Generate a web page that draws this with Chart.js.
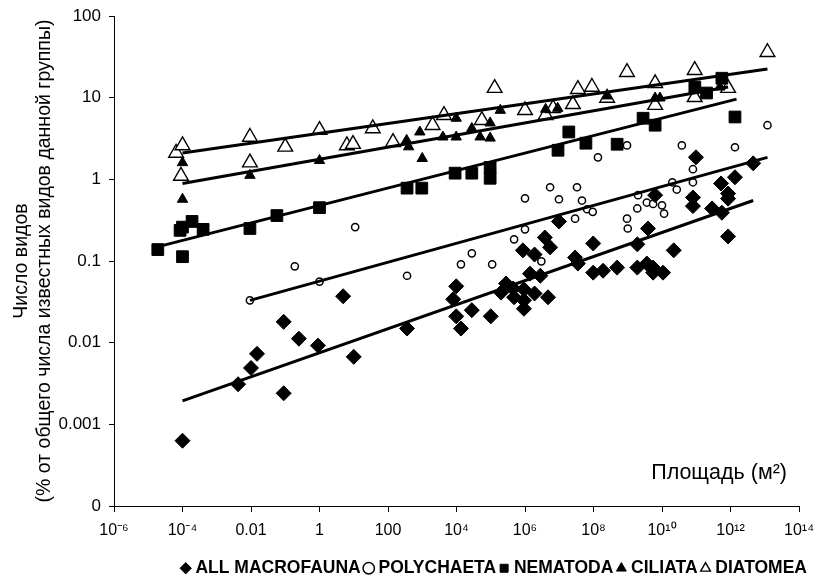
<!DOCTYPE html>
<html><head><meta charset="utf-8">
<script src="https://cdn.jsdelivr.net/npm/chart.js@4.4.1/dist/chart.umd.min.js"></script>
<style>html,body{margin:0;padding:0;background:#fff}#wrap{width:814px;height:582px;position:relative}</style>
</head><body><div id="wrap"><canvas id="c" width="814" height="582"></canvas></div>
<script>
// ---- data (area m², % of known species) ----
const seriesNames = ['ALL MACROFAUNA','POLYCHAETA','NEMATODA','CILIATA','DIATOMEA'];
const macroX = [1e-4,0.0042,0.01,0.015,0.09,0.09,0.25,0.9,4.9,10,360,8000,9800,9800,13500,28000,1e5,2e5,2.8e5,4.5e5,4.8e5,8.7e5,9.3e5,9.3e5,9.3e5,1.4e6,1.9e6,1.9e6,2.8e6,3.8e6,4.7e6,5.4e6,9.8e6,2.9e7,3.5e7,9.8e7,9.8e7,1.9e8,4.9e8,1.9e9,1.9e9,3.6e9,3.9e9,5.5e9,5.5e9,6.3e9,1.07e10,2.2e10,8e10,8e10,9.8e10,2.9e11,5.3e11,5.6e11,8.5e11,8.5e11,8.5e11,1.35e12,4.6e12];
const macroY = [0.00063,0.0031,0.0049,0.0073,0.018,0.0024,0.0112,0.0092,0.037,0.0067,0.0149,0.034,0.049,0.021,0.0149,0.025,0.021,0.041,0.053,0.046,0.036,0.135,0.045,0.033,0.026,0.070,0.12,0.040,0.066,0.194,0.036,0.147,0.305,0.110,0.093,0.164,0.072,0.076,0.083,0.16,0.083,0.093,0.25,0.083,0.072,0.64,0.072,0.135,0.60,0.47,1.86,0.44,0.89,0.39,0.67,0.58,0.20,1.06,1.57];
const polyX = [0.0093,0.19,1,11,360,13500,28000,1.1e5,4.8e5,1e6,1e6,3e6,5.4e6,9.8e6,2.9e7,3.3e7,4.6e7,6.5e7,9.5e7,1.35e8,9.5e8,9.5e8,1e9,1.9e9,2e9,3.6e9,5.5e9,1e10,1.15e10,2e10,2.7e10,3.8e10,8e10,8e10,1.35e12,1.2e13];
const polyY = [0.033,0.086,0.056,0.26,0.066,0.091,0.124,0.091,0.184,0.244,0.585,0.099,0.8,0.57,0.33,0.8,0.55,0.43,0.40,1.86,2.6,0.33,0.25,0.44,0.64,0.52,0.5,0.48,0.38,0.92,0.75,2.6,1.33,0.92,2.47,4.6];
const nemaX = [1.9e-5,8.5e-5,1e-4,1e-4,1.9e-4,4e-4,0.0093,0.057,1,360,970,9100,28000,96000,96000,9.2e6,1.9e7,6e7,4.9e8,2.8e9,6.3e9,9.1e10,2e11,5.6e11,1.35e12];
const nemaY = [0.138,0.237,0.26,0.113,0.305,0.244,0.25,0.36,0.45,0.78,0.78,1.19,1.19,1.03,1.4,2.27,3.8,2.77,2.69,5.6,4.6,13.5,11.4,17.3,5.8];
const ciliX = [1e-4,1e-4,0.0093,1,350,400,850,1000,4000,9800,9800,28000,49000,96000,96000,1.9e5,4e6,9e6,2.5e8,6.3e9,8.7e9,4.9e11];
const ciliY = [1.6,0.57,1.12,1.7,3.0,2.5,3.8,1.8,3.3,3.3,5.6,4.2,3.3,3.2,4.9,7.0,7.2,7.4,10.5,9.9,9.9,13.5];
const diatX = [6.5e-5,1e-4,9e-5,0.0093,0.0093,0.1,1,6.3,9.5,36,140,2000,4300,55000,1.3e5,1e6,4e6,6.6e6,2.5e7,3.5e7,9e7,2.5e8,9.5e8,6.3e9,6.3e9,9e10,9e10,8.5e11,1.2e13];
const diatY = [2.1,2.6,1.1,3.3,1.6,2.5,4.0,2.6,2.7,4.2,2.85,4.6,6.1,5.3,13.1,7.0,6.1,7.4,8.3,12.7,13.5,9.9,20.5,15,8.1,21.7,10.1,13.1,36];
// regression lines (end points)
const macroFitX = [1e-4,4.6e12], macroFitY = [0.00194,0.55];
const polyFitX = [0.0093,1.2e13], polyFitY = [0.033,1.86];
const nemaFitX = [1.6e-5,1.5e12], nemaFitY = [0.147,9.6];
const ciliFitX = [1e-4,8.5e11], ciliFitY = [0.89,13.5];
const diatFitX = [1e-4,1.2e13], diatFitY = [2.1,22.4];
// tick labels
const xTickValues = [1e-6,1e-4,1e-2,1,1e2,1e4,1e6,1e8,1e10,1e12,1e14];
const xTickLabels = ['10⁻⁶','10⁻⁴','0.01','1','100','10⁴','10⁶','10⁸','10¹⁰','10¹²','10¹⁴'];
const yTickValues = [1e-4,1e-3,1e-2,0.1,1,10,100];
const yTickLabels = ['0','0.001','0.01','0.1','1','10','100'];
const yTitle = ['Число видов','(% от общего числа известных видов данной группы)'];
const xTitle = 'Площадь (м²)';

const pts = (xs, ys) => xs.map((x,i)=>({x, y: ys[i]}));
const FONT = "'Liberation Sans', Arial, sans-serif";

function scatterDs(label, xs, ys, style, radius, fill, bw){
  return {label, data: pts(xs,ys), pointStyle: style, pointRadius: radius, pointHoverRadius: radius,
    backgroundColor: fill, borderColor: '#000', pointBorderWidth: bw, borderWidth: bw, showLine:false, order: 2};
}
function fitDs(xs, ys){
  return {label: '_fit', data: pts(xs,ys), showLine: true, pointRadius: 0, borderColor: '#000',
    borderWidth: 3, backgroundColor: '#000', fill:false, order: 1, tension: 0};
}

const xTitlePlugin = {
  id: 'xTitleInside',
  afterDraw(chart){
    const ctx = chart.ctx, a = chart.chartArea;
    ctx.save();
    ctx.fillStyle = '#000';
    ctx.font = "21.5px " + FONT;
    ctx.textAlign = 'right';
    ctx.textBaseline = 'middle';
    ctx.fillText(xTitle, a.right - 12, a.bottom - 33);
    ctx.restore();
  }
};

new Chart(document.getElementById('c'), {
  type: 'scatter',
  data: { datasets: [
    scatterDs(seriesNames[0], macroX, macroY, 'rectRot', 7.5, '#000', 1),
    scatterDs(seriesNames[1], polyX, polyY, 'circle', 3.6, '#fff', 1.5),
    scatterDs(seriesNames[2], nemaX, nemaY, 'rect', 8.3, '#000', 1),
    scatterDs(seriesNames[3], ciliX, ciliY, 'triangle', 6, '#000', 1),
    scatterDs(seriesNames[4], diatX, diatY, 'triangle', 8.5, '#fff', 1.4),
    fitDs(macroFitX, macroFitY), fitDs(polyFitX, polyFitY), fitDs(nemaFitX, nemaFitY),
    fitDs(ciliFitX, ciliFitY), fitDs(diatFitX, diatFitY)
  ]},
  options: {
    responsive: false, animation: false, devicePixelRatio: 1,
    layout: { padding: { left: 0, right: 0, top: 16, bottom: -5 } },
    plugins: {
      tooltip: { enabled: false },
      legend: {
        position: 'bottom', align: 'end',
        labels: {
          filter: (item) => item.text !== '_fit',
          usePointStyle: true, boxHeight: 8, boxWidth: 2, padding: 7,
          color: '#000',
          font: { family: FONT, size: 17.5, weight: 'bold' }
        }
      }
    },
    scales: {
      x: {
        type: 'logarithmic', min: 1e-6, max: 1e14,
        afterBuildTicks: (s) => { s.ticks = xTickValues.map(v => ({value: v})); },
        afterFit: (s) => { s.height = 46.5; s.paddingRight = 0; },
        ticks: { autoSkip: false, maxRotation: 0, color: '#000', padding: 9,
          font: { family: FONT, size: 16 },
          callback: (v) => { const i = xTickValues.findIndex(t => Math.abs(Math.log10(t) - Math.log10(v)) < 1e-6); return i >= 0 ? xTickLabels[i] : ''; } },
        grid: { drawOnChartArea: false, drawTicks: true, tickLength: 6, color: '#000' },
        border: { display: true, color: '#000', width: 1 }
      },
      y: {
        type: 'logarithmic', min: 1e-4, max: 100,
        afterBuildTicks: (s) => { s.ticks = yTickValues.map(v => ({value: v})); },
        afterFit: (s) => { s.width = 114; s.paddingTop = 0; s.paddingBottom = 0; },
        ticks: { autoSkip: false, color: '#000', padding: 8,
          font: { family: FONT, size: 17 },
          callback: (v) => { const i = yTickValues.findIndex(t => Math.abs(Math.log10(t) - Math.log10(v)) < 1e-6); return i >= 0 ? yTickLabels[i] : ''; } },
        grid: { drawOnChartArea: false, drawTicks: true, tickLength: 5, color: '#000' },
        border: { display: true, color: '#000', width: 1 },
        title: { display: true, text: yTitle, color: '#000', padding: { top: 10.5, bottom: 0 },
          font: { family: FONT, size: 19.5, lineHeight: 1.18 } }
      },
      rightSpace: {
        type: 'linear', position: 'right', display: true,
        afterFit: (s) => { s.width = 15; s.paddingTop = 0; s.paddingBottom = 0; },
        ticks: { display: false }, grid: { display: false }, border: { display: false }
      }
    }
  },
  plugins: [xTitlePlugin]
});
</script></body></html>
